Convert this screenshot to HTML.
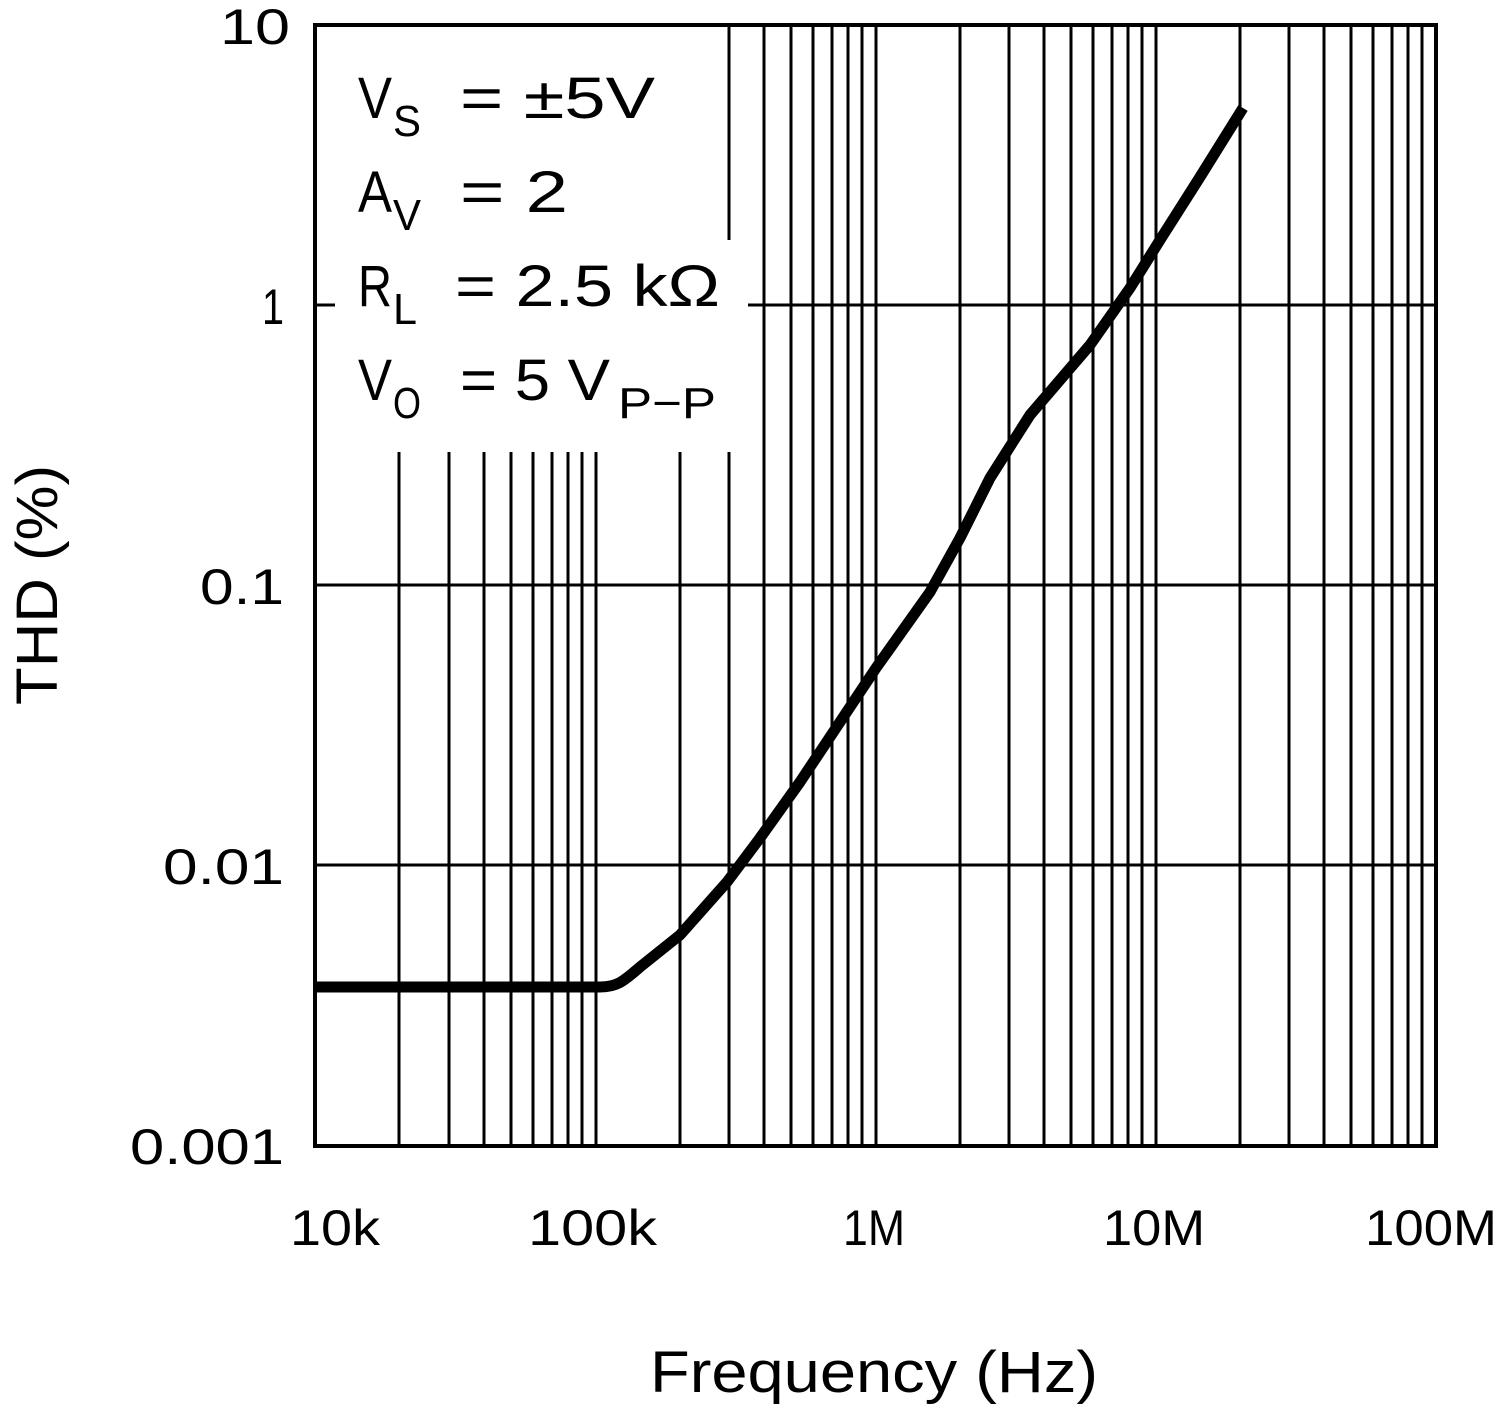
<!DOCTYPE html>
<html><head><meta charset="utf-8"><style>
html,body{margin:0;padding:0;background:#fff}
svg{display:block}
text{font-family:"Liberation Sans",sans-serif;fill:#000}
</style></head><body>
<svg width="1501" height="1406" viewBox="0 0 1501 1406">
<g stroke="#000" stroke-width="3">
<line x1="399" y1="25" x2="399" y2="1146"/><line x1="449" y1="25" x2="449" y2="1146"/><line x1="484" y1="25" x2="484" y2="1146"/><line x1="511" y1="25" x2="511" y2="1146"/><line x1="533" y1="25" x2="533" y2="1146"/><line x1="552" y1="25" x2="552" y2="1146"/><line x1="568" y1="25" x2="568" y2="1146"/><line x1="582" y1="25" x2="582" y2="1146"/><line x1="596" y1="25" x2="596" y2="1146"/>
<line x1="680" y1="25" x2="680" y2="1146"/><line x1="729" y1="25" x2="729" y2="1146"/><line x1="764" y1="25" x2="764" y2="1146"/><line x1="791" y1="25" x2="791" y2="1146"/><line x1="813" y1="25" x2="813" y2="1146"/><line x1="832" y1="25" x2="832" y2="1146"/><line x1="848" y1="25" x2="848" y2="1146"/><line x1="862" y1="25" x2="862" y2="1146"/><line x1="876" y1="25" x2="876" y2="1146"/>
<line x1="960" y1="25" x2="960" y2="1146"/><line x1="1009" y1="25" x2="1009" y2="1146"/><line x1="1044" y1="25" x2="1044" y2="1146"/><line x1="1071" y1="25" x2="1071" y2="1146"/><line x1="1093" y1="25" x2="1093" y2="1146"/><line x1="1112" y1="25" x2="1112" y2="1146"/><line x1="1128" y1="25" x2="1128" y2="1146"/><line x1="1142" y1="25" x2="1142" y2="1146"/><line x1="1156" y1="25" x2="1156" y2="1146"/>
<line x1="1240" y1="25" x2="1240" y2="1146"/><line x1="1289" y1="25" x2="1289" y2="1146"/><line x1="1324" y1="25" x2="1324" y2="1146"/><line x1="1351" y1="25" x2="1351" y2="1146"/><line x1="1373" y1="25" x2="1373" y2="1146"/><line x1="1392" y1="25" x2="1392" y2="1146"/><line x1="1408" y1="25" x2="1408" y2="1146"/><line x1="1422" y1="25" x2="1422" y2="1146"/>
<line x1="315" y1="305" x2="1436" y2="305"/><line x1="315" y1="585" x2="1436" y2="585"/><line x1="315" y1="865" x2="1436" y2="865"/>
</g>
<rect x="318" y="25" width="402" height="427" fill="#fff"/>
<rect x="718" y="240" width="30" height="212" fill="#fff"/>
<line x1="315" y1="305" x2="335" y2="305" stroke="#000" stroke-width="3"/>
<rect x="315" y="25" width="1121" height="1121" stroke="#000" stroke-width="4" fill="none"/>
<g font-size="58">
<text x="358" y="118" textLength="34" lengthAdjust="spacingAndGlyphs">V</text><text x="393" y="136" font-size="44" textLength="28" lengthAdjust="spacingAndGlyphs">S</text>
<text x="460" y="118" textLength="195" lengthAdjust="spacingAndGlyphs">=  ±5V</text>
<text x="358" y="212" textLength="34" lengthAdjust="spacingAndGlyphs">A</text><text x="393" y="230" font-size="44" textLength="28" lengthAdjust="spacingAndGlyphs">V</text>
<text x="460" y="212" textLength="108" lengthAdjust="spacingAndGlyphs">=  2</text>
<text x="358" y="306" textLength="34" lengthAdjust="spacingAndGlyphs">R</text><text x="393" y="324" font-size="44" textLength="24" lengthAdjust="spacingAndGlyphs">L</text>
<text x="455" y="306" textLength="265" lengthAdjust="spacingAndGlyphs">=  2.5 kΩ</text>
<text x="358" y="400" textLength="34" lengthAdjust="spacingAndGlyphs">V</text><text x="393" y="418" font-size="44" textLength="28" lengthAdjust="spacingAndGlyphs">O</text>
<text x="460" y="400" textLength="150" lengthAdjust="spacingAndGlyphs">=  5 V</text><text x="618" y="418" font-size="44" textLength="98" lengthAdjust="spacingAndGlyphs">P−P</text>
</g>
<path d="M315,987 L600,987 C618,987 625,980 640,967 L680,935 L727,882 L760,838 L800,782 L840,722 L876,668 L930,592 L960,538 L990,478 L1030,415 L1090,345 L1130,288 L1160,240 L1200,177 L1243,108" fill="none" stroke="#000" stroke-width="11" stroke-linejoin="round"/>
<g font-size="50">
<text x="220" y="44" textLength="70" lengthAdjust="spacingAndGlyphs">10</text>
<text x="262" y="324" textLength="22" lengthAdjust="spacingAndGlyphs">1</text>
<text x="200" y="604" textLength="84" lengthAdjust="spacingAndGlyphs">0.1</text>
<text x="163" y="884" textLength="121" lengthAdjust="spacingAndGlyphs">0.01</text>
<text x="130" y="1164" textLength="154" lengthAdjust="spacingAndGlyphs">0.001</text>
<text x="290" y="1245" textLength="90" lengthAdjust="spacingAndGlyphs">10k</text>
<text x="528" y="1245" textLength="129" lengthAdjust="spacingAndGlyphs">100k</text>
<text x="843" y="1245" textLength="62" lengthAdjust="spacingAndGlyphs">1M</text>
<text x="1103" y="1245" textLength="102" lengthAdjust="spacingAndGlyphs">10M</text>
<text x="1365" y="1245" textLength="132" lengthAdjust="spacingAndGlyphs">100M</text>
</g>
<text x="650" y="1392" font-size="58" textLength="448" lengthAdjust="spacingAndGlyphs">Frequency (Hz)</text>
<text transform="translate(57,705) rotate(-90)" font-size="58" textLength="240" lengthAdjust="spacingAndGlyphs">THD (%)</text>
</svg>
</body></html>
